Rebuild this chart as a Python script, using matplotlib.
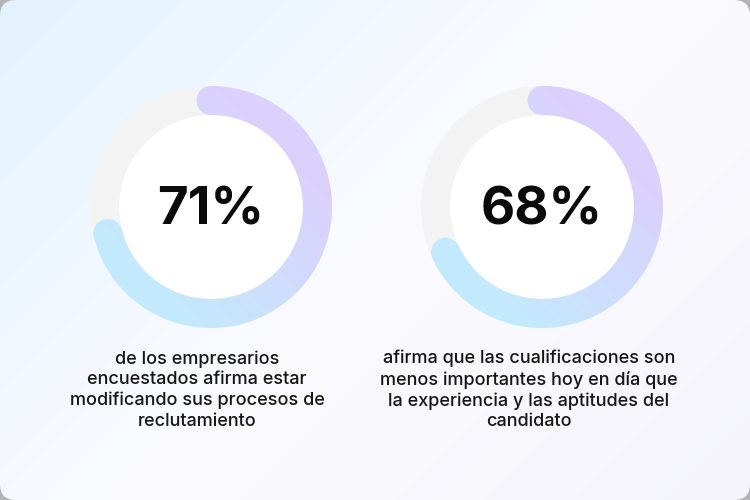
import numpy as np
import matplotlib
matplotlib.use("Agg")
import matplotlib.pyplot as plt
from matplotlib.patches import Wedge, Circle, FancyBboxPatch
from matplotlib.colors import to_rgb

# data
values = [71, 68]
labels = ["71%", "68%"]
captions = [
    "de los empresarios\nencuestados afirma estar\nmodificando sus procesos de\nreclutamiento",
    "afirma que las cualificaciones son\nmenos importantes hoy en día que\nla experiencia y las aptitudes del\ncandidato",
]

W, H = 750, 500
centers = [(211, 207), (542, 207)]
caption_x = [197, 529]
R, width = 121, 29

purple = np.array(to_rgb("#dcd0fc"))
blue = np.array(to_rgb("#c4e9fd"))
track = "#f3f3f4"

fig = plt.figure(figsize=(7.5, 5), dpi=100)
fig.patch.set_facecolor("#b4b4b6")
ax = fig.add_axes([0, 0, 1, 1])
ax.set_xlim(0, W)
ax.set_ylim(H, 0)
ax.axis("off")

# card background gradient
yy, xx = np.mgrid[0:H:2, 0:W:2]
t = np.clip((xx / W * 0.6 + yy / H * 0.4), 0, 1)
c0 = np.array(to_rgb("#e3f3fe"))
c1 = np.array(to_rgb("#fbfbfe"))
c2 = np.array(to_rgb("#f5f4fc"))
bg = np.where(t[..., None] < 0.5,
              c0 + (c1 - c0) * (t[..., None] / 0.5),
              c1 + (c2 - c1) * ((t[..., None] - 0.5) / 0.5))
card = FancyBboxPatch((0, 0), W, H, boxstyle="round,pad=0,rounding_size=16",
                      transform=ax.transData, facecolor="none", edgecolor="none")
ax.add_patch(card)
im = ax.imshow(bg, extent=(0, W, H, 0), origin="upper", zorder=0, interpolation="bilinear")
im.set_clip_path(card)

for (cx, cy), capx, v, lab, cap in zip(centers, caption_x, values, labels, captions):
    # inner white disc and grey track
    ax.add_patch(Circle((cx, cy), R - width, facecolor="white", edgecolor="none", zorder=1))
    ax.add_patch(Wedge((cx, cy), R, 0, 360, width=width, facecolor=track, edgecolor="none", zorder=1))

    # gradient image for the arc
    x0, x1, y0, y1 = cx - R, cx + R, cy - R, cy + R
    gy, gx = np.mgrid[y0:y1:0.5, x0:x1:0.5]
    raw = ((cx - gx) + (gy - cy)) / (R * 1.1)
    g = np.clip((raw + 1) / 2, 0, 1)[..., None]
    img = purple + (blue - purple) * g

    # arc clockwise from the top (screen y is flipped)
    span = 360 * v / 100
    start, end = -90, -90 + span
    patches = [Wedge((cx, cy), R, start, end, width=width)]
    rm = R - width / 2
    for ang in (start, end):
        a = np.deg2rad(ang)
        patches.append(Circle((cx + rm * np.cos(a), cy + rm * np.sin(a)), width / 2))
    for p in patches:
        p.set_facecolor("none")
        p.set_edgecolor("none")
        ax.add_patch(p)
        arc = ax.imshow(img, extent=(x0, x1, y1, y0), origin="upper", zorder=2,
                        interpolation="bilinear")
        arc.set_clip_path(p)

    ax.text(cx, cy + 4, lab, ha="center", va="center", fontsize=38,
            fontweight="bold", family="Inter", color="#0b0b0b", zorder=3)
    ax.text(capx, 390, cap, ha="center", va="center", fontsize=13,
            family="Inter", fontweight="medium", color="#161616",
            linespacing=1.27, zorder=3)

ax.set_xlim(0, W)
ax.set_ylim(H, 0)
fig.savefig("out.png", dpi=100, facecolor=fig.get_facecolor())
